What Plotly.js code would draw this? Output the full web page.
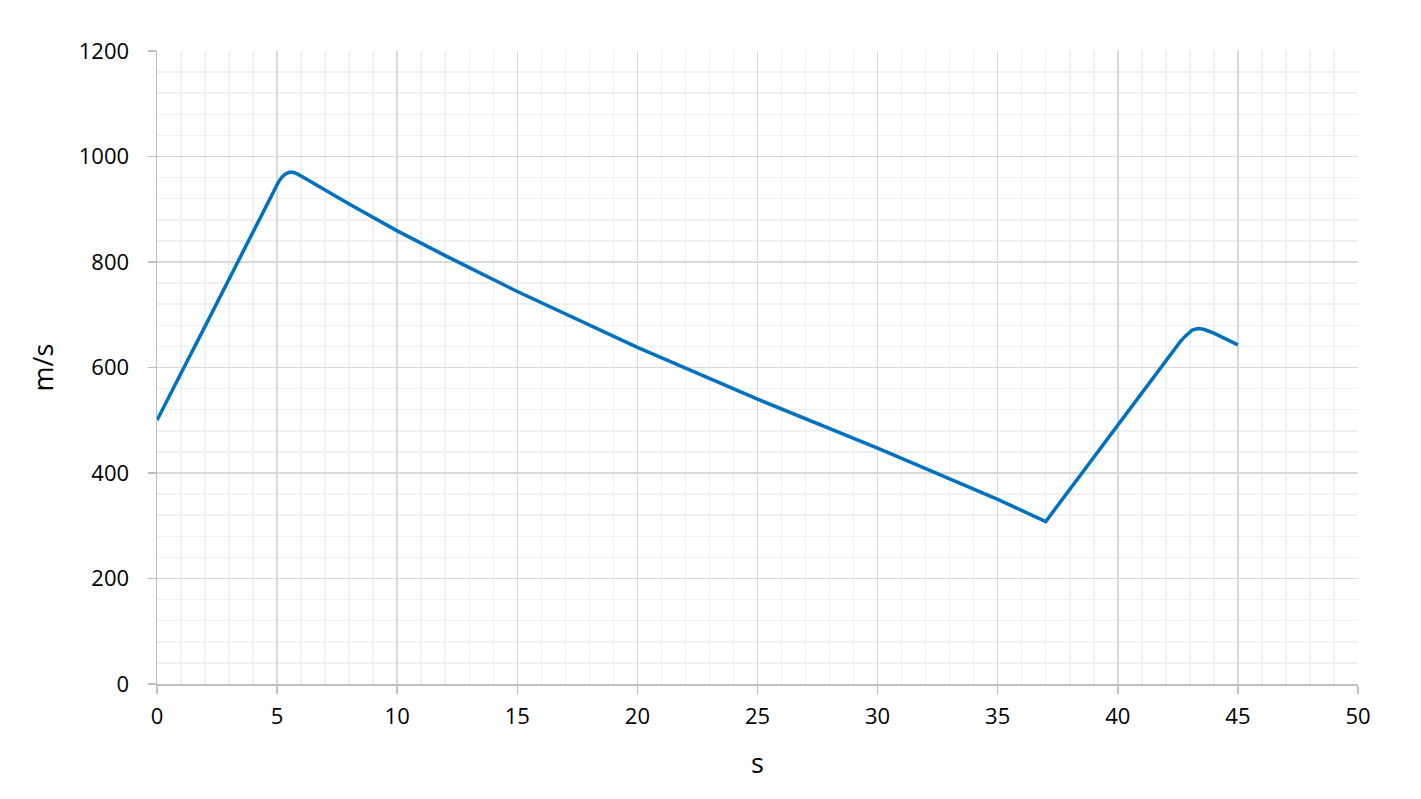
<!DOCTYPE html>
<html>
<head>
<meta charset="utf-8">
<script src="https://cdn.plot.ly/plotly-3.0.1.min.js"></script>
<style>html,body{margin:0;padding:0;background:#fff;}#chart{width:1421px;height:799px;}</style>
</head>
<body>
<div id="chart"></div>
<script>
// time (s)
const timeS = [0, 0.5, 1, 2, 3, 4, 4.9, 5.05, 5.2, 5.35, 5.5, 5.65, 5.8, 6, 8, 10, 12, 15, 20, 25, 30, 35, 37, 40, 42, 42.6, 42.8, 42.95, 43.1, 43.25, 43.4, 43.6, 44, 45];
// speed (m/s)
const speedMS = [500, 546, 589, 678, 768, 857, 937, 951, 961, 967, 970, 970, 968, 963, 910, 859, 812, 744, 638, 540, 447, 350, 308, 491, 613, 649, 659, 666, 671, 673, 674, 672, 665, 643];

const xTickVals = [0, 5, 10, 15, 20, 25, 30, 35, 40, 45, 50];
const yTickVals = [0, 200, 400, 600, 800, 1000, 1200];

const fontFam = "'Open Sans', 'Noto Sans', sans-serif";

Plotly.newPlot('chart', [{
  x: timeS,
  y: speedMS,
  type: 'scatter',
  mode: 'lines',
  line: {color: '#0070c0', width: 3.5, shape: 'linear'},
  hoverinfo: 'skip'
}], {
  width: 1421,
  height: 799,
  margin: {l: 157, r: 63, t: 51, b: 115},
  paper_bgcolor: '#ffffff',
  plot_bgcolor: '#ffffff',
  showlegend: false,
  font: {family: fontFam, color: '#000000', size: 22},
  xaxis: {
    range: [0, 50],
    tickvals: xTickVals,
    ticktext: xTickVals.map(String),
    showgrid: true,
    gridcolor: '#d9d9d9',
    gridwidth: 1.5,
    showline: true,
    linecolor: '#bfbfbf',
    linewidth: 1.5,
    ticks: 'outside',
    ticklen: 8,
    tickcolor: '#bfbfbf',
    tickwidth: 1.5,
    ticklabelstandoff: 4,
    zeroline: false,
    minor: {dtick: 1, showgrid: true, gridcolor: '#f0f0f0', gridwidth: 1.5, ticks: ''},
    tickfont: {family: fontFam, size: 22},
    title: {text: 's', font: {family: fontFam, size: 27}, standoff: 25}
  },
  yaxis: {
    range: [0, 1200],
    tickvals: yTickVals,
    ticktext: yTickVals.map(String),
    showgrid: true,
    gridcolor: '#d9d9d9',
    gridwidth: 1.5,
    showline: true,
    linecolor: '#bfbfbf',
    linewidth: 1.5,
    ticks: 'outside',
    ticklen: 8,
    tickcolor: '#bfbfbf',
    tickwidth: 1.5,
    ticklabelstandoff: 14,
    zeroline: false,
    minor: {dtick: 40, showgrid: true, gridcolor: '#f0f0f0', gridwidth: 1.5, ticks: ''},
    tickfont: {family: fontFam, size: 22},
    title: {text: 'm/s', font: {family: fontFam, size: 27}, standoff: 17}
  }
}, {displayModeBar: false, staticPlot: true});
</script>
</body>
</html>
